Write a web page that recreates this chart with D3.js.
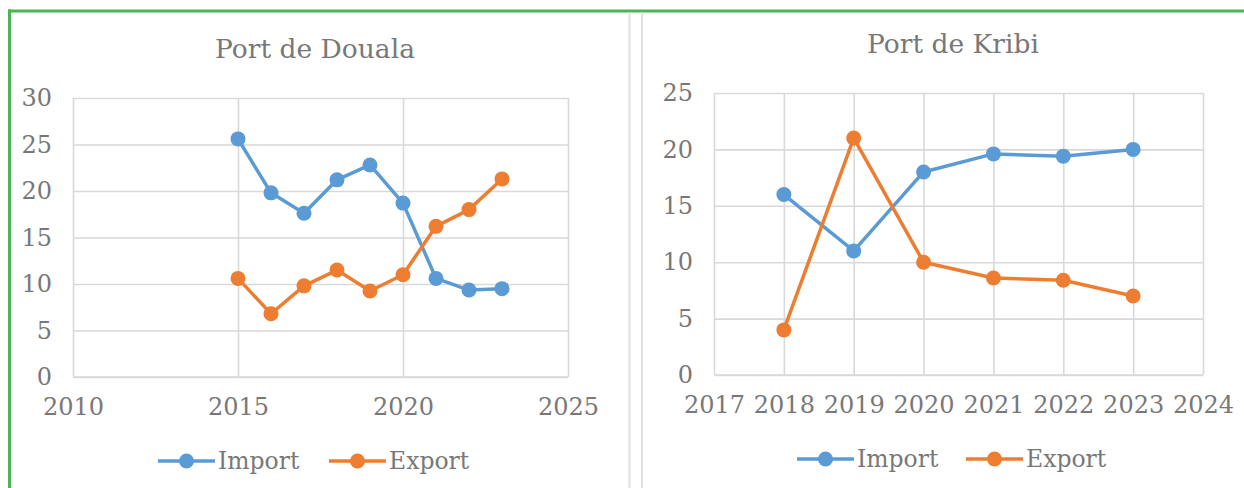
<!DOCTYPE html>
<html><head><meta charset="utf-8">
<script src="https://cdn.jsdelivr.net/npm/d3@7"></script>
<style>
html,body{margin:0;padding:0;background:#fff;}
svg{display:block;}
text{font-family:"DejaVu Serif",serif;fill:#787878;}
</style></head>
<body><svg id="c" width="1244" height="488"></svg>
<script>
// Port de Douala
const doualaYears = [2015, 2016, 2017, 2018, 2019, 2020, 2021, 2022, 2023];
const doualaImport = [25.6, 19.8, 17.6, 21.2, 22.8, 18.7, 10.6, 9.35, 9.5];
const doualaExport = [10.6, 6.8, 9.8, 11.5, 9.25, 11.0, 16.2, 18.0, 21.3];
const doualaXTicks = [2010, 2015, 2020, 2025];
const doualaYTicks = [0, 5, 10, 15, 20, 25, 30];
// Port de Kribi
const kribiYears = [2018, 2019, 2020, 2021, 2022, 2023];
const kribiImport = [16.0, 11.0, 18.0, 19.6, 19.4, 20.0];
const kribiExport = [4.0, 21.0, 10.0, 8.6, 8.4, 7.0];
const kribiXTicks = [2017, 2018, 2019, 2020, 2021, 2022, 2023, 2024];
const kribiYTicks = [0, 5, 10, 15, 20, 25];
const seriesNames = ["Import", "Export"];
const colors = ["#5B9BD5", "#ED7D31"];

const svg = d3.select("#c");

// frame
svg.append("line").attr("x1", 8).attr("x2", 1244).attr("y1", 11).attr("y2", 11)
  .attr("stroke", "#4CB452").attr("stroke-width", 3);
svg.append("line").attr("x1", 9.5).attr("x2", 9.5).attr("y1", 9.5).attr("y2", 488)
  .attr("stroke", "#4CB452").attr("stroke-width", 3);
[629.5, 642].forEach(x => svg.append("line").attr("x1", x).attr("x2", x).attr("y1", 12.5).attr("y2", 488)
  .attr("stroke", "#e1e1e1").attr("stroke-width", 2));

function chart(cfg) {
  const g = svg.append("g");
  const x = d3.scaleLinear().domain(cfg.xDomain).range([cfg.left, cfg.right]);
  const y = d3.scaleLinear().domain(cfg.yDomain).range([cfg.bottom, cfg.top]);

  g.append("text").attr("x", cfg.titleX).attr("y", cfg.titleY).attr("text-anchor", "middle")
    .attr("dominant-baseline", "central").style("font-size", "26.5px").text(cfg.title);

  // horizontal grid + y labels
  const ya = g.append("g").attr("transform", `translate(${cfg.left},0)`)
    .call(d3.axisLeft(y).tickValues(cfg.yTicks).tickSize(-(cfg.right - cfg.left)).tickPadding(21).tickFormat(d3.format("d")));
  ya.select(".domain").remove();
  ya.selectAll("line").attr("stroke", "#d9d9d9").attr("stroke-width", 1.6);
  ya.selectAll("text").style("font-size", "24px").attr("fill", "#787878").attr("font-family", "DejaVu Serif");

  // vertical grid + x labels
  const xa = g.append("g").attr("transform", `translate(0,${cfg.bottom})`)
    .call(d3.axisBottom(x).tickValues(cfg.xTicks).tickSize(-(cfg.bottom - cfg.top)).tickPadding(21).tickFormat(d3.format("d")));
  xa.select(".domain").remove();
  xa.selectAll("line").attr("stroke", "#d9d9d9").attr("stroke-width", 1.6);
  xa.selectAll("text").style("font-size", "24px").attr("fill", "#787878").attr("font-family", "DejaVu Serif");

  g.append("line").attr("x1", cfg.left).attr("x2", cfg.right).attr("y1", cfg.bottom).attr("y2", cfg.bottom)
    .attr("stroke", "#d9d9d9").attr("stroke-width", 1.6);

  const line = d3.line().x(d => x(d[0])).y(d => y(d[1]));
  cfg.series.forEach((vals, i) => {
    const pts = cfg.years.map((yr, j) => [yr, vals[j]]);
    g.append("path").datum(pts).attr("d", line).attr("fill", "none")
      .attr("stroke", colors[i]).attr("stroke-width", 3.5).attr("stroke-linejoin", "round");
    g.selectAll(null).data(pts).enter().append("circle")
      .attr("cx", d => x(d[0])).attr("cy", d => y(d[1])).attr("r", 7.5).attr("fill", colors[i]);
  });

  // legend
  cfg.legend.forEach((lx, i) => {
    g.append("line").attr("x1", lx).attr("x2", lx + 57).attr("y1", cfg.legendY).attr("y2", cfg.legendY)
      .attr("stroke", colors[i]).attr("stroke-width", 3.5);
    g.append("circle").attr("cx", lx + 28.5).attr("cy", cfg.legendY).attr("r", 7.5).attr("fill", colors[i]);
    g.append("text").attr("x", lx + 60).attr("y", cfg.legendY).attr("dominant-baseline", "central")
      .style("font-size", "23.5px").text(seriesNames[i]);
  });
}

chart({
  title: "Port de Douala", titleX: 315, titleY: 48,
  xDomain: [2010, 2025], yDomain: [0, 30],
  left: 73, right: 568, top: 98, bottom: 377,
  xTicks: doualaXTicks, yTicks: doualaYTicks,
  years: doualaYears, series: [doualaImport, doualaExport],
  legend: [158, 329], legendY: 461
});
chart({
  title: "Port de Kribi", titleX: 953, titleY: 43,
  xDomain: [2017, 2024], yDomain: [0, 25],
  left: 714, right: 1203, top: 93, bottom: 375,
  xTicks: kribiXTicks, yTicks: kribiYTicks,
  years: kribiYears, series: [kribiImport, kribiExport],
  legend: [797, 966], legendY: 459
});
</script></body></html>
